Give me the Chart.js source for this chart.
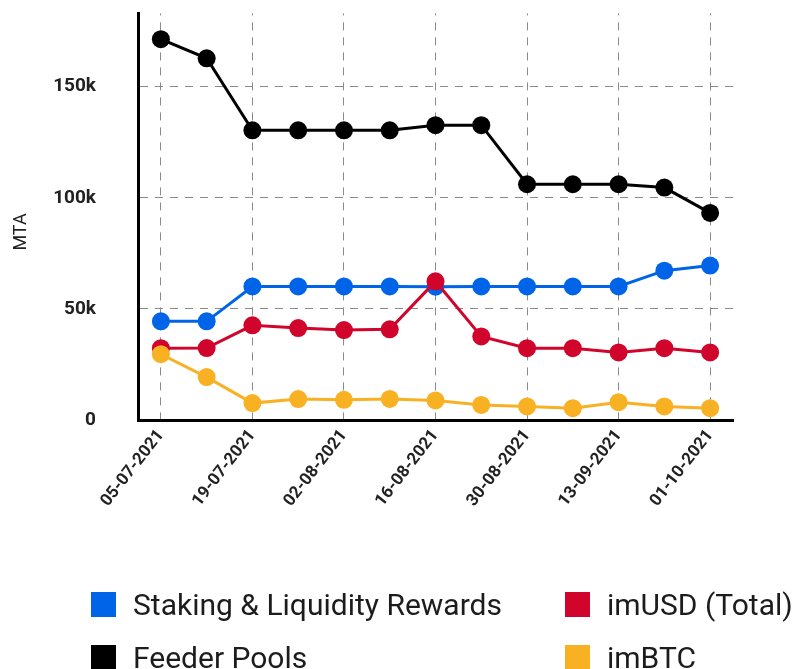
<!DOCTYPE html>
<html>
<head>
<meta charset="utf-8">
<script src="https://cdn.jsdelivr.net/npm/chart.js@4"></script>
<style>
  html, body { margin: 0; padding: 0; background: #fff; }
  #wrap { position: relative; width: 796px; height: 669px; overflow: hidden; }
  #legend {
    position: absolute; left: 91px; top: 591px;
    display: grid; grid-template-columns: 474px auto; row-gap: 27px;
    font-family: Roboto, sans-serif; font-size: 30px; color: #1c1c1c;
  }
  .item { display: flex; align-items: center; height: 26px; white-space: nowrap; }
  .box { width: 25px; height: 25px; margin-right: 17px; flex: none; }
</style>
</head>
<body>
<div id="wrap">
  <canvas id="chart"></canvas>
  <div id="legend"></div>
</div>
<script>
// dates (weekly snapshots)
const labels = [
  '05-07-2021', '12-07-2021', '19-07-2021', '26-07-2021', '02-08-2021',
  '09-08-2021', '16-08-2021', '23-08-2021', '30-08-2021', '06-09-2021',
  '13-09-2021', '20-09-2021', '01-10-2021'
];

// MTA amounts
const staking = [44400, 44400, 60100, 60100, 60100, 60100, 60000, 60100, 60100, 60100, 60100, 67200, 69500];
const imUSD   = [32300, 32400, 42600, 41400, 40500, 40800, 62400, 37600, 32300, 32300, 30400, 32300, 30400];
const feeder  = [171400, 162800, 130400, 130400, 130400, 130400, 132700, 132700, 106100, 106100, 106100, 104600, 93200];
const imBTC   = [29600, 19300, 7600, 9400, 9100, 9500, 8800, 6800, 6100, 5300, 8000, 6100, 5300];

const yTicks = [0, 50000, 100000, 150000];
const yMax = 183000;
const yTitle = 'MTA';

const COLORS = {
  blue: '#0064e8',
  red: '#d1042b',
  black: '#000000',
  amber: '#f9b124',
};

function series(label, data, color, order) {
  return {
    label, data, order,
    borderColor: color,
    backgroundColor: color,
    pointBackgroundColor: color,
    pointBorderColor: color,
    borderWidth: 3,
    pointRadius: 9,
    pointBorderWidth: 0,
    tension: 0,
    fill: false,
  };
}

const datasets = [
  series('Staking & Liquidity Rewards', staking, COLORS.blue, 2),
  series('imUSD (Total)', imUSD, COLORS.red, 1),
  series('Feeder Pools', feeder, COLORS.black, 3),
  series('imBTC', imBTC, COLORS.amber, 0),
];

// y axis title sits a bit below the middle of the plot in the original
const axisTitle = {
  id: 'axisTitle',
  afterDraw(c) {
    const ctx = c.ctx;
    ctx.save();
    ctx.translate(21, 232);
    ctx.rotate(-Math.PI / 2);
    ctx.font = '18px Roboto';
    ctx.fillStyle = '#222';
    ctx.textAlign = 'center';
    ctx.textBaseline = 'middle';
    ctx.fillText(yTitle, 0, 0);
    ctx.restore();
  },
};

const chart = new Chart(document.getElementById('chart').getContext('2d'), {
  type: 'line',
  data: { labels, datasets },
  options: {
    responsive: true,
    maintainAspectRatio: false,
    animation: false,
    layout: { padding: { top: 13, right: 63, left: 0, bottom: 0 } },
    plugins: {
      legend: { display: false },
      tooltip: { enabled: false },
    },
    scales: {
      x: {
        offset: true,
        afterFit: (s) => { s.height = 249; },
        border: { display: true, color: '#000', width: 3, dash: [8, 7], dashOffset: 6 },
        grid: { color: '#8a8a8a', lineWidth: 1, drawTicks: false },
        ticks: {
          autoSkip: false,
          minRotation: 52,
          maxRotation: 52,
          padding: 6,
          color: '#222',
          font: { family: 'Roboto', size: 17, weight: 'bold' },
          callback: (v, i) => (i % 2 === 0 ? labels[i] : null),
        },
      },
      y: {
        min: 0,
        max: yMax,
        afterFit: (s) => { s.width = 138; },
        afterBuildTicks: (s) => { s.ticks = yTicks.map(v => ({ value: v })); },
        border: { display: true, color: '#000', width: 3, dash: [8, 7] },
        grid: {
          color: (ctx) => (ctx.tick && ctx.tick.value === 0 ? 'rgba(0,0,0,0)' : '#8a8a8a'),
          lineWidth: 1,
          drawTicks: true,
          tickLength: 40,
          tickColor: 'rgba(0,0,0,0)',
        },
        ticks: {
          padding: 2,
          color: '#222',
          font: { family: 'Roboto', size: 19, weight: 'bold' },
          callback: (v) => (v === 0 ? '0' : (v / 1000) + 'k'),
        },
      },
    },
  },
  plugins: [axisTitle],
});

// HTML legend in two aligned columns
const legendEl = document.getElementById('legend');
chart.data.datasets.forEach((ds) => {
  const item = document.createElement('div');
  item.className = 'item';
  const box = document.createElement('span');
  box.className = 'box';
  box.style.background = ds.borderColor;
  const txt = document.createElement('span');
  txt.textContent = ds.label;
  item.appendChild(box);
  item.appendChild(txt);
  legendEl.appendChild(item);
});
</script>
</body>
</html>
